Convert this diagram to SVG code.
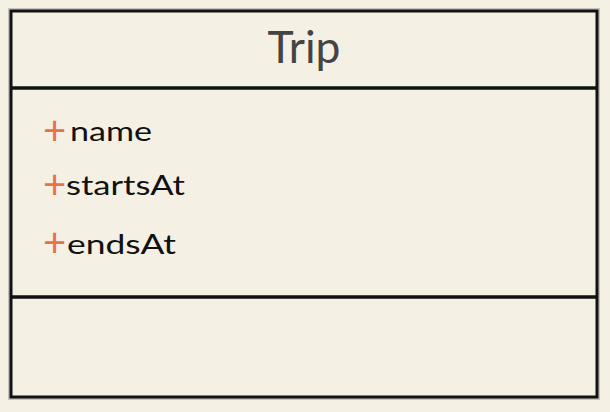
<svg xmlns="http://www.w3.org/2000/svg" width="610" height="412" viewBox="0 0 610 412">
<style>
.box{fill:#f4f0e4;stroke:#111;stroke-width:3}
.shadow{fill:none;stroke:#c4c2bc;stroke-width:6}
.div{stroke:#111;stroke-width:3.5}
.title{font-family:Lato,"Open Sans",sans-serif;font-size:44px;fill:#444;text-anchor:middle}
.attr{font-family:Lato,"Noto Sans",sans-serif;font-size:27px;fill:#111}
.plus{font-family:Lato,"Noto Sans",sans-serif;font-size:40px;fill:#e8704a}
</style>
<rect width="610" height="412" fill="#f4f0e4"/>
<g id="Trip">
<rect class="shadow" x="11" y="11" width="586" height="386"/>
<rect class="box" x="11" y="11" width="586" height="386"/>
<line class="div" x1="11" y1="88" x2="597" y2="88"/>
<line class="div" x1="11" y1="297" x2="597" y2="297"/>
<text class="title" x="304" y="63" textLength="73" lengthAdjust="spacingAndGlyphs">Trip</text>
<text class="plus" x="43" y="145">+</text><text class="attr" x="70" y="141" textLength="82" lengthAdjust="spacingAndGlyphs">name</text>
<text class="plus" x="43" y="199">+</text><text class="attr" x="66" y="195" textLength="119" lengthAdjust="spacingAndGlyphs">startsAt</text>
<text class="plus" x="43" y="257">+</text><text class="attr" x="67" y="254" textLength="109" lengthAdjust="spacingAndGlyphs">endsAt</text>
</g>
</svg>
